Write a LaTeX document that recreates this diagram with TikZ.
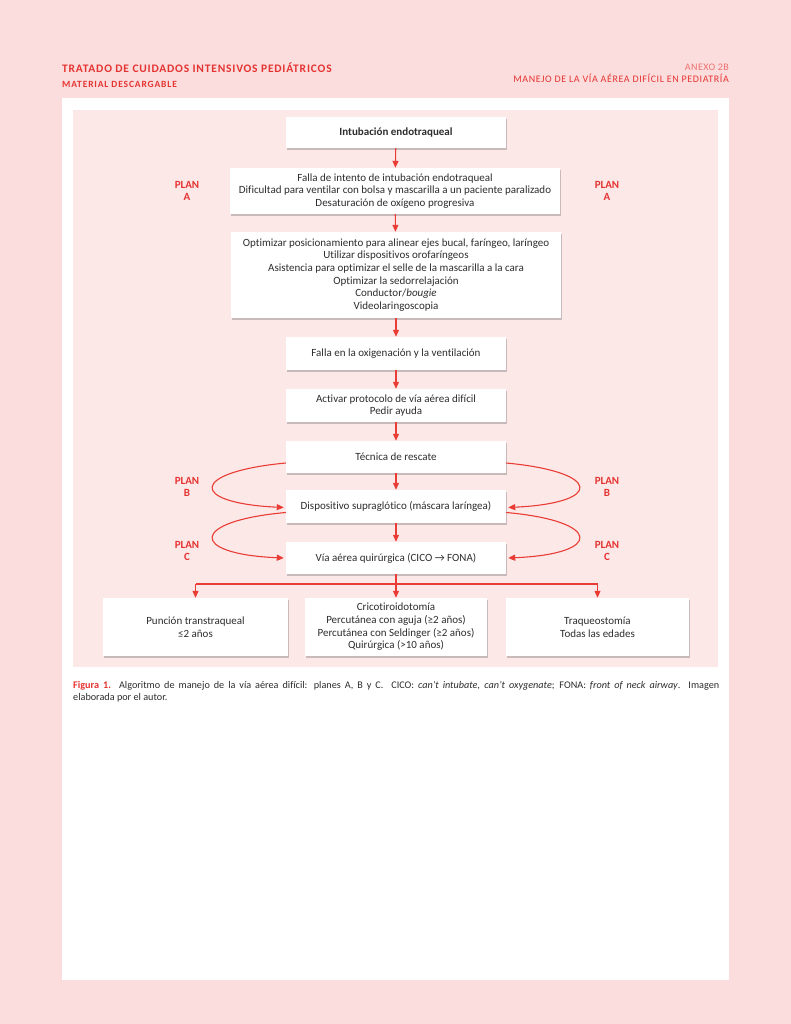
\documentclass[tikz,border=0pt]{standalone}
\usepackage{fontspec}
\setmainfont{Carlito}[Ligatures=NoCommon]
\usetikzlibrary{shadows,calc,arrows.meta}
\definecolor{pagebg}{RGB}{252,221,221}
\definecolor{panelbg}{RGB}{253,232,232}
\definecolor{redA}{RGB}{228,52,50}
\definecolor{redB}{RGB}{232,60,52}
\definecolor{txt}{RGB}{45,45,45}
\begin{document}
\begin{tikzpicture}[x=1pt,y=-1pt,
  box/.style={draw=none,fill=white,text=txt,align=center,inner sep=2pt,
    font=\fontsize{11}{12.6}\selectfont,
    drop shadow={shadow xshift=1.2pt,shadow yshift=-1.6pt,opacity=0.35,fill=black!60}},
  arr/.style={draw=redB,line width=1.1pt,-{Triangle[length=7pt,width=6pt]}},
  ln/.style={draw=redB,line width=1.1pt},
  plan/.style={text=redA,align=center,font=\fontsize{11}{12.5}\selectfont\bfseries}]
\useasboundingbox (0,0) rectangle (791,1024);
\fill[pagebg] (0,0) rectangle (791,1024);
\fill[white] (62,98) rectangle (729,980);
\fill[panelbg] (73,110) rectangle (718,667);
% header
\node[anchor=base west,inner sep=0,text=redA,font=\fontsize{11.5}{12}\selectfont\bfseries\addfontfeature{LetterSpace=7}] (h1) at (62,73) {TRATADO DE CUIDADOS INTENSIVOS PEDIÁTRICOS};
\node[anchor=base west,inner sep=0,text=redA,font=\fontsize{9.5}{10}\selectfont\bfseries\addfontfeature{LetterSpace=9}] (h2) at (62,88) {MATERIAL DESCARGABLE};
\node[anchor=base east,inner sep=0,text=redA!70,font=\fontsize{10}{10}\selectfont\addfontfeature{LetterSpace=4}] (h3) at (729,71) {ANEXO 2B};
\node[anchor=base east,inner sep=0,text=redA,font=\fontsize{10}{10}\selectfont\addfontfeature{LetterSpace=6}] (h4) at (729,83) {MANEJO DE LA VÍA AÉREA DIFÍCIL EN PEDIATRÍA};
% boxes
\node[box,minimum width=220pt,minimum height=31pt,font=\fontsize{11}{12.6}\selectfont\bfseries] (b1) at (396,132.5) {Intubación endotraqueal};
\node[box,minimum width=330pt,minimum height=46pt] (b2) at (395,191) {Falla de intento de intubación endotraqueal\\Dificultad para ventilar con bolsa y mascarilla a un paciente paralizado\\Desaturación de oxígeno progresiva};
\node[box,minimum width=330pt,minimum height=86pt] (b3) at (396,275) {Optimizar posicionamiento para alinear ejes bucal, faríngeo, laríngeo\\Utilizar dispositivos orofaríngeos\\Asistencia para optimizar el selle de la mascarilla a la cara\\Optimizar la sedorrelajación\\Conductor/\textit{bougie}\\Videolaringoscopia};
\node[box,minimum width=220pt,minimum height=33pt] (b4) at (396,353.5) {Falla en la oxigenación y la ventilación};
\node[box,minimum width=220pt,minimum height=33pt] (b5) at (396,405.5) {Activar protocolo de vía aérea difícil\\Pedir ayuda};
\node[box,minimum width=220pt,minimum height=32pt] (b6) at (396,457) {Técnica de rescate};
\node[box,minimum width=220pt,minimum height=33pt] (b7) at (396,506.5) {Dispositivo supraglótico (máscara laríngea)};
\node[box,minimum width=220pt,minimum height=32pt] (b8) at (396,558) {Vía aérea quirúrgica (CICO → FONA)};
\node[box,minimum width=185pt,minimum height=58pt] (c1) at (195.5,627) {Punción transtraqueal\\≤2 años};
\node[box,minimum width=182pt,minimum height=58pt] (c2) at (396,627) {Cricotiroidotomía\\Percutánea con aguja (≥2 años)\\Percutánea con Seldinger (≥2 años)\\Quirúrgica (>10 años)};
\node[box,minimum width=183pt,minimum height=58pt] (c3) at (597.5,627) {Traqueostomía\\Todas las edades};
% plan labels
\node[plan] (pa1) at (187,191) {PLAN\\A};
\node[plan] (pa2) at (607,191) {PLAN\\A};
\node[plan] (pb1) at (187,487) {PLAN\\B};
\node[plan] (pb2) at (607,487) {PLAN\\B};
\node[plan] (pc1) at (187,551) {PLAN\\C};
\node[plan] (pc2) at (607,551) {PLAN\\C};
% arrows
\draw[arr] (b1) -- (b2);
\draw[arr] (b2) -- (b3);
\draw[arr] (b3) -- (b4);
\draw[arr] (b4) -- (b5);
\draw[arr] (b5) -- (b6);
\draw[arr] (b6) -- (b7);
\draw[arr] (b7) -- (b8);
% plan curves
\coordinate (l6) at ($(b6.west)+(0,6)$);
\coordinate (l7) at ($(b7.west)+(-2,1)$);
\coordinate (l7s) at ($(b7.west)+(0,6)$);
\coordinate (l8) at ($(b8.west)+(-2,0)$);
\coordinate (r6) at ($(b6.east)+(0,6)$);
\coordinate (r7) at ($(b7.east)+(2,1)$);
\coordinate (r7s) at ($(b7.east)+(0,6)$);
\coordinate (r8) at ($(b8.east)+(2,0)$);
\draw[arr] (l6) .. controls (190,472) and (188,503) .. (l7);
\draw[arr] (l7s) .. controls (190,521) and (188,554) .. (l8);
\draw[arr] (r6) .. controls (602,472) and (604,503) .. (r7);
\draw[arr] (r7s) .. controls (602,521) and (604,554) .. (r8);
% branch
\coordinate (bm) at (396,584);
\coordinate (bl) at (195.5,584);
\coordinate (brr) at (597.5,584);
\draw[ln] (b8.south) -- (bm);
\draw[ln] (bl) -- (brr);
\draw[arr] (bl) -- (c1.north);
\draw[arr] (bm) -- (c2.north);
\draw[arr] (brr) -- (c3.north);
% caption
\node[anchor=north west,inner sep=0,text width=646pt,align=justify,text=txt,font=\fontsize{10.2}{12.5}\selectfont] (cap) at (73,681) {\textcolor{redA}{\textbf{Figura 1.}} Algoritmo de manejo de la vía aérea difícil: planes A, B y C.\ \ CICO: \textit{can't intubate, can't oxygenate}; FONA: \textit{front of neck airway}. Imagen\linebreak elaborada por el autor.};
\end{tikzpicture}
\end{document}
